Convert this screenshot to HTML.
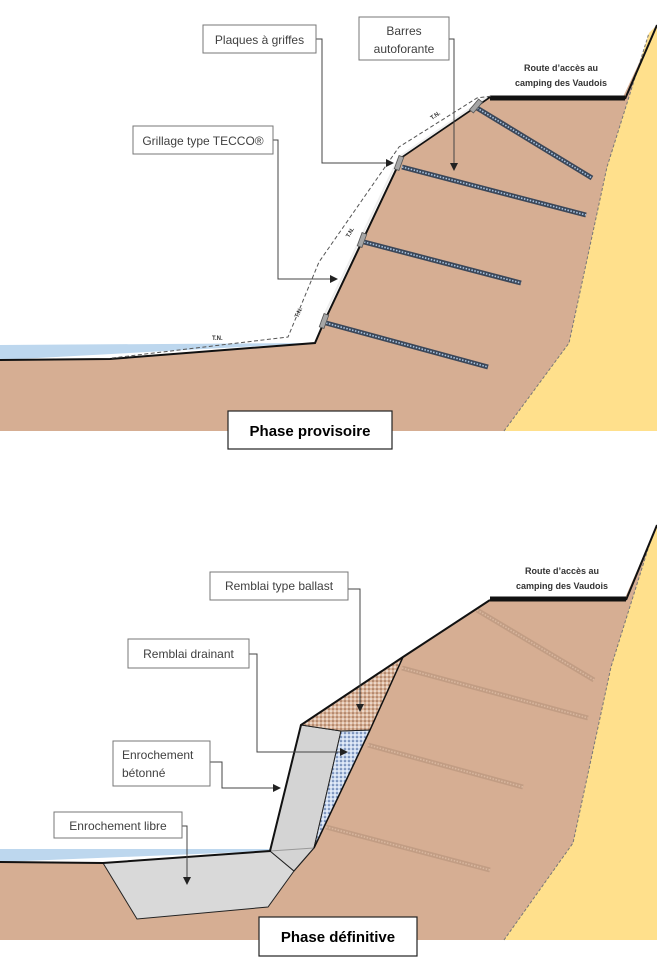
<!DOCTYPE html>
<html><head><meta charset="utf-8"><style>
html,body{margin:0;padding:0;background:#fff;}
svg{display:block;}
text{font-family:"Liberation Sans",sans-serif;}
</style></head><body>
<svg width="657" height="966" viewBox="0 0 657 966" xmlns="http://www.w3.org/2000/svg">
<defs>
<pattern id="dotB" width="4" height="4" patternUnits="userSpaceOnUse">
<rect width="4" height="4" fill="#d9b49a"/><circle cx="1" cy="1" r="0.8" fill="#8a5a40"/><circle cx="3" cy="3" r="0.8" fill="#fff"/></pattern>
<pattern id="dotD" width="4" height="4" patternUnits="userSpaceOnUse">
<rect width="4" height="4" fill="#c9d8ee"/><circle cx="1" cy="1" r="0.8" fill="#2f4e8a"/><circle cx="3" cy="3" r="0.8" fill="#fff"/></pattern>
<marker id="ar" markerWidth="8" markerHeight="8" refX="7" refY="4" orient="auto" markerUnits="userSpaceOnUse"><path d="M0,0 L8,4 L0,8 z" fill="#222"/></marker>
</defs>

<!-- ===== TOP PANEL ===== -->
<polygon points="0,345 315,343 0,360" fill="#bdd7ee"/>
<polygon points="0,360 110,359 315,343 324,322 402,157 490,97 623,97 657,25 657,431 0,431" fill="#d6ae93"/>
<polygon points="504,431 569,343 607,167 649,33 657,25 657,431" fill="#ffe08c"/>
<polyline points="504,431 569,343 607,167 649,33" fill="none" stroke="#777" stroke-width="1" stroke-dasharray="3,2"/>
<polyline points="0,360 110,359 315,343 324,322 402,157 490,97" fill="none" stroke="#111" stroke-width="2"/>
<line x1="490" y1="98" x2="625" y2="98" stroke="#111" stroke-width="5"/>
<polyline points="625,99 657,25" fill="none" stroke="#111" stroke-width="2"/>
<polyline points="324,322 402,157 490,97" fill="none" stroke="#eee" stroke-width="2" transform="translate(-3,0)"/>
<polyline points="112,358 288,337 319,262 399,147 477,98 492,96" fill="none" stroke="#555" stroke-width="1" stroke-dasharray="4,2.5"/>
<g font-size="6" font-weight="bold" fill="#333">
<text x="212" y="340">T.N.</text>
<text x="0" y="0" transform="translate(298,318) rotate(-65)">T.N.</text>
<text x="0" y="0" transform="translate(349,238) rotate(-60)">T.N.</text>
<text x="0" y="0" transform="translate(432,120) rotate(-35)">T.N.</text>
</g>
<g>
<g stroke="#3b4759" stroke-width="5" stroke-linecap="butt">
<line x1="477" y1="108" x2="592" y2="178"/><line x1="402" y1="167" x2="586" y2="215"/>
<line x1="364" y1="242" x2="521" y2="283"/><line x1="326" y1="323" x2="488" y2="367"/></g>
<g stroke="#a7c3e0" stroke-width="1.6" stroke-dasharray="1.5,1.5">
<line x1="477" y1="108" x2="592" y2="178"/><line x1="402" y1="167" x2="586" y2="215"/>
<line x1="364" y1="242" x2="521" y2="283"/><line x1="326" y1="323" x2="488" y2="367"/></g>
</g>
<g fill="#a6a6a6" stroke="#555" stroke-width="0.8">
<rect x="-2.5" y="-7" width="5" height="14" transform="translate(476,106) rotate(40)"/>
<rect x="-2.5" y="-7" width="5" height="14" transform="translate(399,163) rotate(20)"/>
<rect x="-2.5" y="-7" width="5" height="14" transform="translate(362,240) rotate(20)"/>
<rect x="-2.5" y="-7" width="5" height="14" transform="translate(324,321) rotate(20)"/>
</g>
<!-- callouts top -->
<g fill="none" stroke="#666" stroke-width="1">
<polyline points="316,39 322,39 322,163 393,163" stroke="#444" marker-end="url(#ar)"/>
<polyline points="449,39 454,39 454,170" stroke="#444" marker-end="url(#ar)"/>
<polyline points="273,140 278,140 278,279 337,279" stroke="#444" marker-end="url(#ar)"/>
</g>
<g fill="#fff" stroke="#777" stroke-width="1">
<rect x="203" y="25" width="113" height="28"/>
<rect x="359" y="17" width="90" height="43"/>
<rect x="133" y="126" width="140" height="28"/>
</g>
<g font-size="12" fill="#404040" text-anchor="middle">
<text x="259.5" y="44">Plaques à griffes</text>
<text x="404" y="35">Barres</text>
<text x="404" y="53">autoforante</text>
<text x="203" y="145">Grillage type TECCO®</text>
</g>
<g font-size="9" font-weight="bold" fill="#333" text-anchor="middle">
<text x="561" y="71">Route d’accès au</text>
<text x="561" y="86">camping des Vaudois</text>
</g>
<rect x="228" y="411" width="164" height="38" fill="#fff" stroke="#222" stroke-width="1.2"/>
<text x="310" y="436" font-size="15" font-weight="bold" fill="#000" text-anchor="middle">Phase provisoire</text>

<!-- ===== BOTTOM PANEL ===== -->
<polygon points="0,849 300,849 270,851 0,862" fill="#bdd7ee"/>
<polygon points="0,862 103,863 270,851 301,725 403,657 490,600 625,598 657,525 657,940 0,940" fill="#d6ae93"/>
<polygon points="504,940 573,843 611,667 653,533 657,525 657,940" fill="#ffe08c"/>
<polyline points="504,940 573,843 611,667 653,533" fill="none" stroke="#777" stroke-width="1" stroke-dasharray="3,2"/>
<g stroke="#c29d84" stroke-width="5"><line x1="477" y1="610" x2="594" y2="680"/><line x1="402" y1="668" x2="588" y2="718"/><line x1="368" y1="745" x2="523" y2="787"/><line x1="326" y1="827" x2="490" y2="870"/></g>
<g stroke="#d9b8a0" stroke-width="1.6" stroke-dasharray="1.5,1.5"><line x1="477" y1="610" x2="594" y2="680"/><line x1="402" y1="668" x2="588" y2="718"/><line x1="368" y1="745" x2="523" y2="787"/><line x1="326" y1="827" x2="490" y2="870"/></g>
<!-- enrochement libre -->
<polygon points="103,863 137,919 268,907 294,871 270,851" fill="#d9d9d9" stroke="#222" stroke-width="1"/>
<!-- betonne -->
<polygon points="270,851 301,725 341,731 314,848 294,871" fill="#d4d4d4" stroke="#222" stroke-width="1"/>
<line x1="270" y1="851" x2="314" y2="848" stroke="#999" stroke-width="1"/>
<!-- drainant -->
<polygon points="341,731 370,730 314,848" fill="url(#dotD)" stroke="#222" stroke-width="1"/>
<!-- ballast -->
<polygon points="301,725 403,657 370,730 341,731" fill="url(#dotB)" stroke="#222" stroke-width="1"/>
<polyline points="0,862 103,863 270,851 301,725 403,657 490,600" fill="none" stroke="#111" stroke-width="2"/>
<line x1="370" y1="730" x2="314" y2="848" stroke="#111" stroke-width="1.5"/>
<line x1="403" y1="657" x2="370" y2="730" stroke="#111" stroke-width="1.5"/>
<line x1="314" y1="848" x2="294" y2="871" stroke="#222" stroke-width="1"/>
<line x1="490" y1="599" x2="626" y2="599" stroke="#111" stroke-width="5"/>
<polyline points="626,600 657,525" fill="none" stroke="#111" stroke-width="2"/>
<!-- callouts bottom -->
<g fill="none" stroke="#444" stroke-width="1">
<polyline points="348,589 360,589 360,711" marker-end="url(#ar)"/>
<polyline points="249,654 257,654 257,752 347,752" marker-end="url(#ar)"/>
<polyline points="210,762 222,762 222,788 280,788" marker-end="url(#ar)"/>
<polyline points="182,826 187,826 187,884" marker-end="url(#ar)"/>
</g>
<g fill="#fff" stroke="#777" stroke-width="1">
<rect x="210" y="572" width="138" height="28"/>
<rect x="128" y="639" width="121" height="29"/>
<rect x="113" y="741" width="97" height="45"/>
<rect x="54" y="812" width="128" height="26"/>
</g>
<g font-size="12" fill="#404040">
<text x="279" y="590" text-anchor="middle">Remblai type ballast</text>
<text x="188.5" y="658" text-anchor="middle">Remblai drainant</text>
<text x="122" y="759">Enrochement</text>
<text x="122" y="777">bétonné</text>
<text x="118" y="830" text-anchor="middle">Enrochement libre</text>
</g>
<g font-size="9" font-weight="bold" fill="#333" text-anchor="middle">
<text x="562" y="574">Route d’accès au</text>
<text x="562" y="589">camping des Vaudois</text>
</g>
<rect x="259" y="917" width="158" height="39" fill="#fff" stroke="#222" stroke-width="1.2"/>
<text x="338" y="942" font-size="15" font-weight="bold" fill="#000" text-anchor="middle">Phase définitive</text>
</svg>
</body></html>
